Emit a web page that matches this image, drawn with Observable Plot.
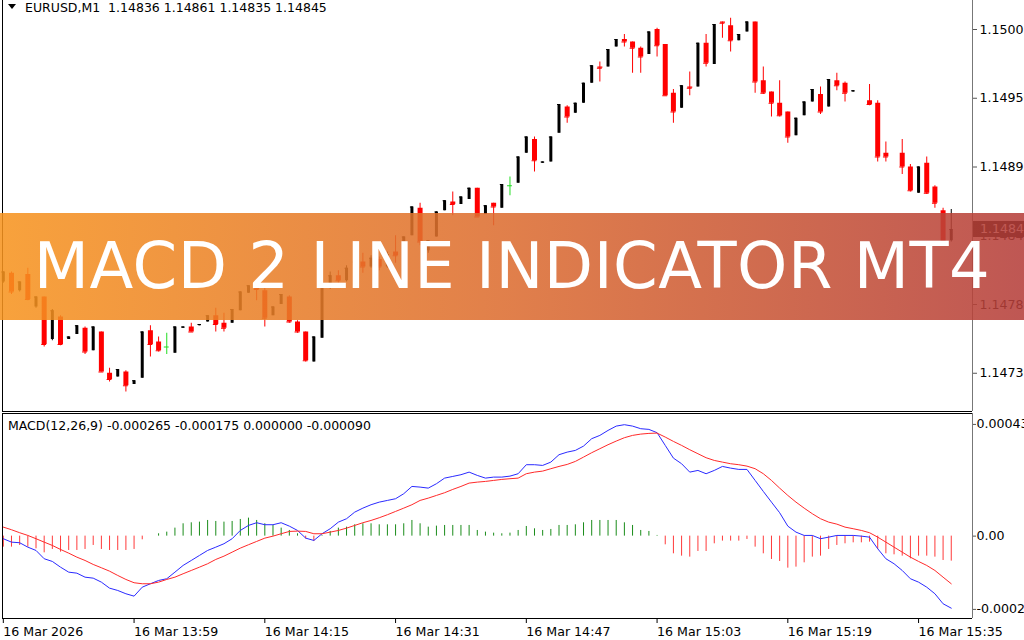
<!DOCTYPE html>
<html><head><meta charset="utf-8">
<script src="https://cdn.jsdelivr.net/npm/d3@7"></script>
<script src="https://cdn.jsdelivr.net/npm/@observablehq/plot@0.6"></script>
<style>
html,body{margin:0;padding:0;background:#fff;}
#wrap{position:relative;width:1024px;height:640px;overflow:hidden;font-family:"DejaVu Sans",sans-serif;background:#fff;}
#price,#macd{position:absolute;left:0;}
#price{top:0;}
#macd{top:412px;}
.hdr{position:absolute;font-size:12.5px;line-height:1;white-space:pre;color:#000;}
#tri{position:absolute;left:8px;top:4px;width:0;height:0;border-left:4px solid transparent;border-right:4px solid transparent;border-top:5px solid #000;}
#bid{position:absolute;left:973px;width:60px;height:16px;background:#000;color:#fff;font-size:12.6px;line-height:16px;padding-left:7px;box-sizing:border-box;}
#banner{position:absolute;left:0;top:213px;width:1024px;height:107px;
 background:linear-gradient(90deg, rgba(247,148,31,0.87) 0%, rgba(220,108,48,0.87) 50%, rgba(181,62,58,0.87) 100%);}
#banner span{position:absolute;left:0;top:21px;width:1024px;text-align:center;color:#fff;font-family:"DejaVu Sans",sans-serif;font-size:64px;line-height:1;white-space:pre;letter-spacing:0.5px;}
</style>
</head><body>
<div id="wrap">
  <div id="price"></div>
  <div id="macd"></div>
  <div id="bid"></div>
  <div id="tri"></div>
  <div class="hdr" id="h1" style="left:25px;top:2px;"></div>
  <div class="hdr" id="h2" style="left:8px;top:419.5px;"></div>
  <div id="banner"><span>MACD 2 LINE INDICATOR MT4</span></div>
</div>
<script>
// ---- data (EURUSD M1, bar index 0 = 16 Mar 2026 13:43) ----
const symbol = "EURUSD,M1";
const open = [1.14803,1.14810,1.14796,1.14809,1.14783,1.14791,1.14757,1.14775,1.14757,1.14761,
1.14766,1.14748,1.14763,1.14730,1.14727,1.14731,1.14721,1.14726,1.14764,1.14755,
1.14751,1.14746,1.14766,1.14767,1.14768,1.14771,1.14776,1.14770,1.14770,1.14780,
1.14794,1.14799,1.14796,1.14776,1.14785,1.14791,1.14771,1.14763,1.14739,1.14758,
1.14799,1.14808,1.14804,1.14814,1.14819,1.14815,1.14821,1.14815,1.14827,1.14835,
1.14840,1.14862,1.14828,1.14839,1.14860,1.14867,1.14865,1.14869,1.14878,1.14857,
1.14866,1.14862,1.14880,1.14882,1.14906,1.14917,1.14898,1.14899,1.14922,1.14943,
1.14938,1.14946,1.14962,1.14975,1.14975,1.14991,1.14997,1.14995,1.14990,1.14985,
1.15005,1.14993,1.14954,1.14942,1.14959,1.14959,1.14994,1.14977,1.15011,1.15008,
1.14996,1.15003,1.15011,1.14964,1.14955,1.14946,1.14939,1.14920,1.14936,1.14947,
1.14953,1.14943,1.14964,1.14962,1.14955,null,1.14948,1.14946,1.14906,null,
1.14906,1.14895,1.14874,1.14898,1.14879,1.14860,1.14836];
const high = [1.14811,1.14811,1.14803,1.14814,1.14791,1.14791,1.14781,1.14776,1.14759,1.14768,
1.14767,1.14767,1.14763,1.14734,1.14733,1.14732,1.14724,1.14763,1.14768,1.14759,
1.14762,1.14767,1.14767,1.14770,1.14769,1.14776,1.14782,1.14778,1.14781,1.14795,
1.14800,1.14799,1.14798,1.14783,1.14793,1.14792,1.14772,1.14763,1.14759,1.14799,
1.14811,1.14812,1.14816,1.14822,1.14826,1.14824,1.14823,1.14827,1.14840,1.14839,
1.14863,1.14866,1.14836,1.14859,1.14868,1.14875,1.14871,1.14878,1.14878,1.14864,
1.14866,1.14881,1.14887,1.14903,1.14919,1.14919,1.14899,1.14919,1.14945,1.14944,
1.14946,1.14962,1.14976,1.14979,1.14989,1.14997,1.15001,1.14995,1.14991,1.15003,
1.15006,1.14993,1.14957,1.14960,1.14971,1.14994,1.15001,1.15009,1.15011,1.15014,
1.15001,1.15011,1.15011,1.14975,1.14955,1.14964,1.14939,1.14934,1.14947,1.14957,
1.14959,1.14965,1.14970,1.14963,1.14956,null,1.14961,1.14948,1.14915,null,
1.14917,1.14897,1.14895,1.14903,1.14880,1.14862,1.14861];
const low = [1.14802,1.14793,1.14795,1.14788,1.14782,1.14751,1.14756,1.14752,1.14757,1.14761,
1.14745,1.14748,1.14731,1.14723,1.14727,1.14715,1.14721,1.14726,1.14743,1.14747,
1.14745,1.14746,1.14766,1.14763,1.14768,1.14771,1.14763,1.14763,1.14770,1.14780,
1.14794,1.14788,1.14767,1.14776,1.14785,1.14770,1.14762,1.14739,1.14739,1.14758,
1.14797,1.14802,1.14803,1.14812,1.14810,1.14814,1.14812,1.14814,1.14818,1.14835,
1.14840,1.14832,1.14826,1.14839,1.14860,1.14856,1.14865,1.14869,1.14855,1.14857,
1.14848,1.14862,1.14872,1.14882,1.14906,1.14891,1.14898,1.14899,1.14922,1.14930,
1.14938,1.14946,1.14962,1.14963,1.14975,1.14991,1.14991,1.14970,1.14970,1.14985,
1.14983,1.14952,1.14930,1.14942,1.14952,1.14959,1.14975,1.14977,1.14998,1.14987,
1.14996,1.15003,1.14954,1.14953,1.14935,1.14935,1.14914,1.14920,1.14936,1.14947,
1.14937,1.14943,1.14956,1.14947,1.14955,null,1.14944,1.14899,1.14899,null,
1.14889,1.14875,1.14874,1.14873,1.14862,1.14835,1.14835];
const close = [1.14811,1.14795,1.14803,1.14789,1.14791,1.14753,1.14780,1.14753,1.14759,1.14768,
1.14747,1.14767,1.14731,1.14725,1.14733,1.14720,1.14724,1.14763,1.14753,1.14748,
1.14751,1.14767,1.14767,1.14763,1.14769,1.14776,1.14769,1.14766,1.14781,1.14795,
1.14800,1.14797,1.14774,1.14783,1.14793,1.14771,1.14763,1.14740,1.14759,1.14799,
1.14808,1.14804,1.14814,1.14819,1.14815,1.14822,1.14815,1.14825,1.14824,1.14839,
1.14863,1.14835,1.14836,1.14859,1.14868,1.14865,1.14871,1.14878,1.14855,1.14864,
1.14863,1.14881,1.14880,1.14903,1.14919,1.14900,1.14899,1.14919,1.14945,1.14935,
1.14946,1.14962,1.14976,1.14974,1.14989,1.14997,1.14995,1.14990,1.14983,1.15003,
1.14992,1.14952,1.14939,1.14960,1.14958,1.14994,1.14978,1.15009,1.15010,1.14996,
1.15001,1.15011,1.14963,1.14954,1.14946,1.14936,1.14919,1.14934,1.14947,1.14957,
1.14939,1.14965,1.14960,1.14954,1.14956,null,1.14945,1.14903,1.14903,null,
1.14895,1.14876,1.14895,1.14874,1.14866,1.14835,1.14845];

// MACD(12,26,9) buffers, in millionths (1e-6)
const macdMain = [-10.0,-23.1,-25.4,-42.4,-55.1,-87.0,-97.4,-119.4,-138.6,-142.5,
-157.9,-161.7,-177.1,-200.2,-209.1,-221.8,-231.0,-196.4,-183.3,-170.6,
-164.0,-138.6,-112.8,-93.6,-74.3,-55.1,-42.4,-29.3,-10.0,21.9,
41.2,51.6,43.9,43.9,51.6,38.5,21.9,-7.7,-16.6,9.2,
28.5,53.9,67.0,92.4,107.8,120.9,130.9,137.4,144.0,163.2,
191.3,188.7,184.8,201.7,223.3,229.8,236.4,246.4,233.7,223.3,
227.2,227.2,231.0,240.2,274.9,274.9,272.2,284.9,313.4,323.4,
329.9,346.5,375.0,387.7,406.9,423.5,428.9,423.5,413.5,410.8,
398.1,349.2,300.3,278.7,246.4,252.9,240.2,252.9,268.3,261.8,
256.8,256.8,214.4,172.1,130.9,90.1,38.5,15.4,2.7,2.7,
-10.0,-3.9,2.7,2.7,2.7,0,-3.9,-48.5,-87.0,-106.3,
-132.1,-164.0,-177.1,-196.4,-221.8,-260.3,-277.2];
const macdSignal = [34.7,24.6,13.1,2.7,-10.0,-23.1,-35.8,-51.2,-65.5,-80.9,
-93.6,-109.0,-121.7,-134.8,-151.3,-166.7,-179.4,-183.3,-183.3,-177.1,
-166.7,-157.9,-144.8,-132.1,-119.4,-106.3,-89.7,-77.0,-61.6,-46.2,
-33.1,-20.4,-7.7,0,9.2,18.1,19.3,18.1,9.2,9.2,
15.4,21.9,30.8,41.2,51.6,60.4,70.8,82.4,95.1,107.8,
120.9,137.4,146.3,156.7,167.1,179.8,191.3,204.1,207.9,210.6,
214.4,218.3,221.0,223.3,240.2,246.4,250.3,259.5,268.3,276.0,
287.6,304.2,321.1,336.5,351.9,365.8,378.8,387.7,392.7,395.4,
396.6,381.2,364.6,349.2,332.6,317.2,301.8,291.4,284.9,278.7,
274.9,269.5,259.5,240.2,214.4,184.8,156.7,130.9,107.8,86.2,
67.0,53.9,46.2,34.7,28.5,21.9,13.1,-3.9,-23.1,-42.4,
-61.6,-80.9,-97.4,-112.8,-132.1,-157.9,-183.3];
const macdHist = [-42.3,-42.3,-35.9,-42.3,-48.8,-64.2,-51.3,-61.6,-55.2,-55.2,
-51.3,-35.9,-51.3,-55.2,-55.2,-55.2,-51.3,-14.1,0,9.0,
15.4,30.8,47.5,51.3,53.9,60.3,56.5,53.9,56.5,64.2,
69.3,60.3,47.5,41.1,30.8,21.8,9.0,-10.3,-20.5,3.0,
18.0,30.8,34.6,43.6,47.5,47.5,43.6,43.6,43.6,47.5,
60.3,47.5,34.6,38.5,41.1,41.1,41.1,41.1,21.8,15.4,
11.5,9.0,11.5,21.8,37.2,28.2,21.8,25.7,41.1,41.1,
43.6,51.3,60.3,60.3,60.3,60.3,51.3,41.1,21.8,18.0,
2.6,-33.4,-68.0,-77.0,-80.8,-59.0,-59.0,-29.5,-19.2,-19.2,
-19.2,-12.8,-42.3,-68.0,-89.8,-97.5,-123.2,-119.3,-102.7,-80.8,
-77.0,-51.3,-35.9,-29.5,-25.7,-25.7,-23.1,-51.3,-68.0,-71.9,
-77.0,-87.3,-77.0,-77.0,-80.8,-93.7,-96.2];
const macdHeader = "MACD(12,26,9) -0.000265 -0.000175 0.000000 -0.000090";

// axes
const priceTicks = [1.15005, 1.14950, 1.14895, 1.14840, 1.14785, 1.14730];
const macdTicks = [0.000430, 0, -0.000282];
const macdTickLabels = ["0.000430", "0.00", "-0.000282"];
const timeTickBars = [0, 16, 32, 48, 64, 80, 96, 112];
const timeTickLabels = ["16 Mar 2026","16 Mar 13:59","16 Mar 14:15","16 Mar 14:31","16 Mar 14:47","16 Mar 15:03","16 Mar 15:19","16 Mar 15:35"];

// ---- build ----
const n = open.length;
const xDomain = [-0.1, 118.6];
const priceDomain = [1.146994, 1.150282];
const macdDomain = [-0.000317, 0.000472];

const candles = d3.range(n).filter(i => open[i] != null).map(i => ({
  i, o: open[i], h: high[i], l: low[i], c: close[i],
  kind: close[i] > open[i] ? "up" : close[i] < open[i] ? "down" : "doji"
}));
const col = {up: "#000000", down: "#ff0000", doji: "#22dd22"};
const ups = candles.filter(d => d.kind === "up");
const downs = candles.filter(d => d.kind === "down");
const dojis = candles.filter(d => d.kind === "doji");

const font = {fontFamily: "DejaVu Sans, sans-serif", fontSize: "12.6px", color: "black", background: "transparent", overflow: "visible"};

const priceChart = Plot.plot({
  width: 1024, height: 412,
  marginLeft: 2, marginRight: 52, marginTop: 0, marginBottom: 1,
  style: font,
  x: {domain: xDomain, axis: null},
  y: {domain: priceDomain, axis: null},
  marks: [
    Plot.ruleX(candles, {x: "i", y1: "l", y2: "h", stroke: d => col[d.kind], strokeWidth: 1}),
    Plot.ruleX(ups, {x: "i", y1: "o", y2: "c", stroke: col.up, strokeWidth: 3}),
    Plot.ruleX(downs, {x: "i", y1: "o", y2: "c", stroke: col.down, strokeWidth: 5}),
    Plot.ruleY(ups, {y: "c", x1: d => d.i - 0.18, x2: d => d.i + 0.18, stroke: col.up}),
    Plot.ruleY(downs, {y: "c", x1: d => d.i - 0.3, x2: d => d.i + 0.3, stroke: col.down}),
    Plot.ruleY(dojis, {y: "o", x1: d => d.i - 0.3, x2: d => d.i + 0.3, stroke: col.doji}),
    Plot.ruleX([xDomain[0]], {stroke: "#000"}),
    Plot.ruleY([priceDomain[0]], {stroke: "#000"}),
    Plot.ruleX([xDomain[1]], {stroke: "#777"}),
    Plot.axisY(priceTicks, {anchor: "right", label: null, tickSize: 4, tickPadding: 3, tickFormat: d => d.toFixed(5), stroke: "#555"})
  ]
});
document.getElementById("price").appendChild(priceChart);

const hist = macdHist.map((v, i) => ({i, v: v * 1e-6}));
const mainL = macdMain.map((v, i) => ({i, v: v * 1e-6}));
const sigL = macdSignal.map((v, i) => ({i, v: v * 1e-6}));
const macdLabel = new Map(macdTicks.map((t, k) => [t, macdTickLabels[k]]));
const timeLabel = new Map(timeTickBars.map((t, k) => [t, timeTickLabels[k]]));

const macdChart = Plot.plot({
  width: 1024, height: 228,
  marginLeft: 2, marginRight: 52, marginTop: 1, marginBottom: 22,
  style: font,
  x: {domain: xDomain, axis: null},
  y: {domain: macdDomain, axis: null},
  marks: [
    Plot.ruleX(hist.filter(d => d.v >= 0), {x: "i", y1: 0, y2: "v", stroke: "#1a8c1a", strokeWidth: 1}),
    Plot.ruleX(hist.filter(d => d.v < 0), {x: "i", y1: 0, y2: "v", stroke: "#ff3a3a", strokeWidth: 1}),
    Plot.line(mainL, {x: "i", y: "v", stroke: "#2a2aff", strokeWidth: 1}),
    Plot.line(sigL, {x: "i", y: "v", stroke: "#ff2a2a", strokeWidth: 1}),
    Plot.ruleX([xDomain[0]], {stroke: "#000"}),
    Plot.ruleY([macdDomain[0]], {stroke: "#000"}),
    Plot.ruleY([macdDomain[1]], {stroke: "#000"}),
    Plot.ruleX([xDomain[1]], {stroke: "#777"}),
    Plot.axisY(macdTicks, {anchor: "right", label: null, tickSize: 3, tickPadding: 1, tickFormat: d => macdLabel.get(d), stroke: "#555"}),
    Plot.axisX(timeTickBars, {anchor: "bottom", label: null, tickSize: 5, tickPadding: 4, textAnchor: "start", tickFormat: d => timeLabel.get(d)})
  ]
});
document.getElementById("macd").appendChild(macdChart);

// header texts
const last = n - 1;
document.getElementById("h1").textContent =
  `${symbol}  ${open[last].toFixed(5)} ${high[last].toFixed(5)} ${low[last].toFixed(5)} ${close[last].toFixed(5)}`;
document.getElementById("h2").textContent = macdHeader;

// bid price box on the price axis
const yb = priceChart.scale("y").apply(close[last]);
const bid = document.getElementById("bid");
bid.style.top = (yb - 8) + "px";
bid.textContent = close[last].toFixed(5);
</script>
</body></html>
